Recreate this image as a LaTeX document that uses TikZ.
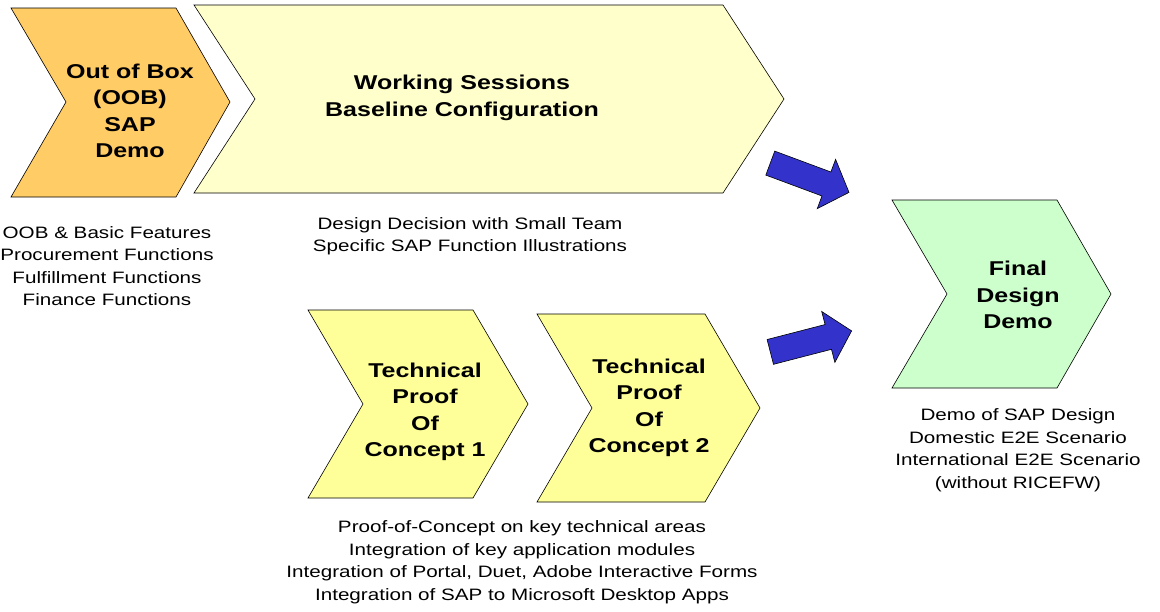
\documentclass[tikz,border=0pt]{standalone}
\usepackage{fontspec}
\setmainfont{Liberation Sans}[FakeStretch=1.25]
\usetikzlibrary{shapes.arrows}
\definecolor{oobfill}{HTML}{FFCC66}
\definecolor{workfill}{HTML}{FFFFCC}
\definecolor{pocfill}{HTML}{FFFF99}
\definecolor{finalfill}{HTML}{CCFFCC}
\definecolor{arrowblue}{HTML}{3333CC}

\begin{document}
\begin{tikzpicture}[x=1pt, y=-1pt,
  chevron/.style={draw=black, line width=0.6pt, line join=miter},
  title/.style={font=\fontsize{20}{26.5}\selectfont\bfseries, align=center, inner sep=0pt},
  notes/.style={font=\fontsize{16.5}{22.5}\selectfont, align=center, inner sep=0pt},
  blockarrow/.style={single arrow, draw=black, fill=arrowblue, line width=0.6pt,
    minimum height=84pt, text height=12.5pt, text depth=12.5pt, text width=0pt,
    single arrow head extend=13.5pt, single arrow tip angle=95,
    inner sep=0pt, anchor=tail}]
  \fill[white] (0,0) rectangle (1160,611);
  \useasboundingbox (0,0) rectangle (1160,611);
  % chevrons
  \filldraw[chevron, fill=oobfill] (11,8) -- (176,8) -- (230,102) -- (176,197) -- (11,197) -- (66,102) -- cycle;
  \filldraw[chevron, fill=workfill] (194,5) -- (723,5) -- (784,99) -- (723,193) -- (194,193) -- (255,99) -- cycle;
  \filldraw[chevron, fill=pocfill] (308,310) -- (473,310) -- (528,404) -- (473,498) -- (308,498) -- (363,404) -- cycle;
  \filldraw[chevron, fill=pocfill] (537,314) -- (705,314) -- (760,408) -- (705,502) -- (537,502) -- (592,408) -- cycle;
  \filldraw[chevron, fill=finalfill] (892,200) -- (1057,200) -- (1111,294) -- (1057,388) -- (892,388) -- (947,294) -- cycle;
  % titles
  \node[title] (oob) at (130,111) {Out of Box\\(OOB)\\SAP\\Demo};
  \node[title] (work) at (462,98) {Working Sessions\\Baseline Configuration};
  \node[title] (poc1) at (425,412) {Technical\\Proof\\Of\\Concept 1};
  \node[title] (poc2) at (649,408) {Technical\\Proof\\Of\\Concept 2};
  \node[title] (final) at (1018,295) {Final\\Design\\Demo};
  % notes
  \node[notes] (oobnotes) at (107,266) {OOB \& Basic Features\\Procurement Functions\\Fulfillment Functions\\Finance Functions};
  \node[notes] (worknotes) at (470,236) {Design Decision with Small Team\\Specific SAP Function Illustrations};
  \node[notes] (pocnotes) at (522,562) {Proof-of-Concept on key technical areas\\Integration of key application modules\\Integration of Portal, Duet, Adobe Interactive Forms\\Integration of SAP to Microsoft Desktop Apps};
  \node[notes] (finalnotes) at (1018,450) {Demo of SAP Design\\Domestic E2E Scenario\\International E2E Scenario\\(without RICEFW)};
  % block arrows
  \node[blockarrow, rotate=-20.4] (toparrow) at (770,163) {};
  \node[blockarrow, rotate=14.5] (bottomarrow) at (770,352) {};
\end{tikzpicture}
\end{document}
